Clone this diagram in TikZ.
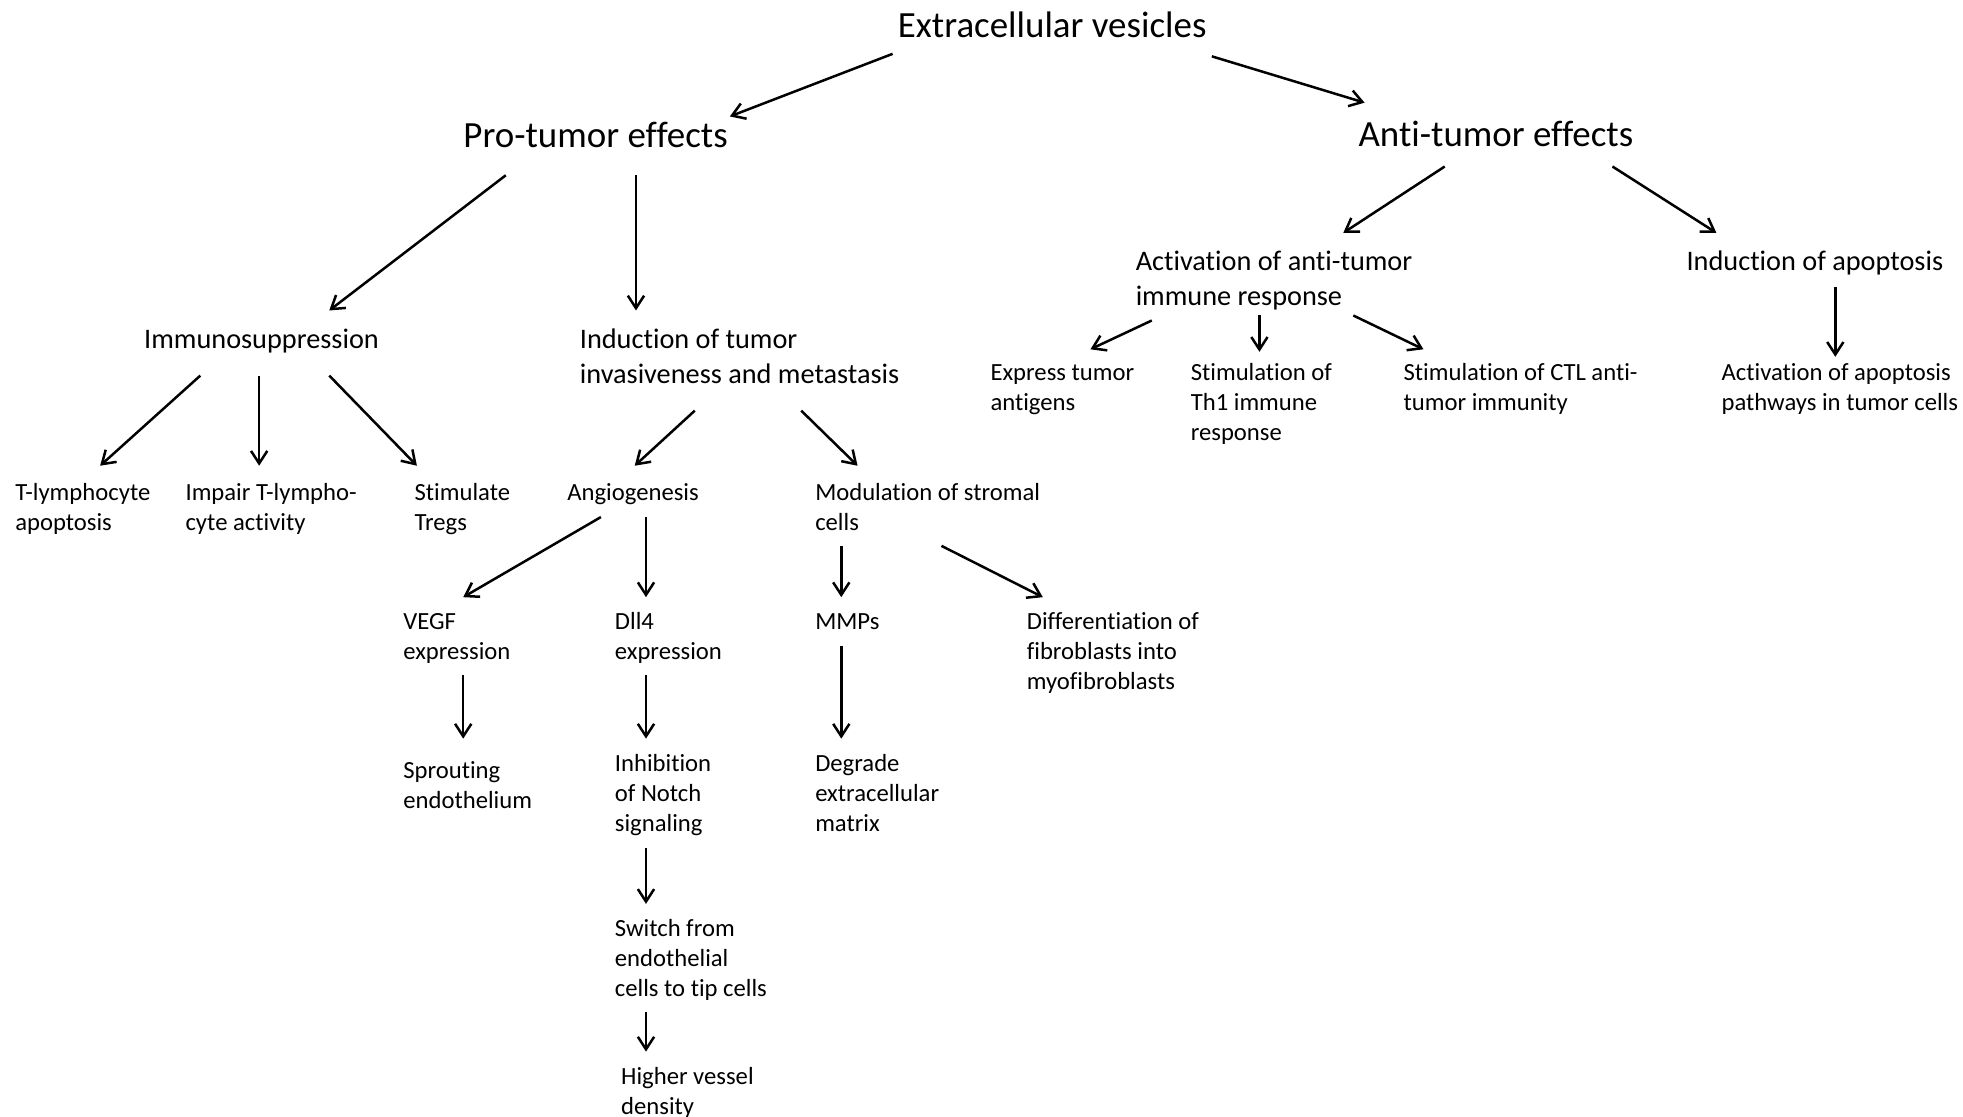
\documentclass[tikz,border=0pt]{standalone}
\usepackage{fontspec}
\setmainfont{Carlito}[Ligatures=NoCommon]
\usetikzlibrary{arrows.meta,calc}
\newcommand\txtlines[1]{\vtop{\let\\\cr\halign{##\hfil\cr#1\crcr}}}
\tikzset{
  lbl/.style={anchor=base west,inner sep=0pt},
  smalltxt/.style={lbl,font=\fontsize{19.7}{24}\selectfont},
  medtxt/.style={lbl,font=\fontsize{22.6}{28}\selectfont},
  bigtxt/.style={lbl,font=\fontsize{29.5}{36}\selectfont},
  arr/.style={line width=2pt,-{Straight Barb[length=10pt,width=13pt]}}
}
\begin{document}
\begin{tikzpicture}[x=1pt,y=-1pt]
\fill[white] (0,0) rectangle (1568,892);
\useasboundingbox (0,0) rectangle (1568,892);
% top levels
\node[bigtxt] (ev) at (717,30) {Extracellular vesicles};
\node[bigtxt] (pro) at (370,118) {Pro-tumor effects};
\node[bigtxt] (anti) at (1085,117) {Anti-tumor effects};
% medium
\node[medtxt] (imm) at (115,278) {Immunosuppression};
\node[medtxt] (ind) at (463,278) {\txtlines{Induction of tumor\\invasiveness and metastasis}};
\node[medtxt] (act) at (907,216) {\txtlines{Activation of anti-tumor\\immune response}};
\node[medtxt] (iap) at (1347,216) {Induction of apoptosis};
% small
\node[smalltxt] (tly) at (12,400) {\txtlines{T-lymphocyte\\apoptosis}};
\node[smalltxt] (imp) at (148,400) {\txtlines{Impair T-lympho-\\cyte activity}};
\node[smalltxt] (stim) at (331,400) {\txtlines{Stimulate\\Tregs}};
\node[smalltxt] (ang) at (453,400) {Angiogenesis};
\node[smalltxt] (mod) at (651,400) {\txtlines{Modulation of stromal\\cells}};
\node[smalltxt] (exp) at (791,304) {\txtlines{Express tumor\\antigens}};
\node[smalltxt] (th1) at (951,304) {\txtlines{Stimulation of\\Th1 immune\\response}};
\node[smalltxt] (ctl) at (1121,304) {\txtlines{Stimulation of CTL anti-\\tumor immunity}};
\node[smalltxt] (aap) at (1375,304) {\txtlines{Activation of apoptosis\\pathways in tumor cells}};
\node[smalltxt] (vegf) at (322,503) {\txtlines{VEGF\\expression}};
\node[smalltxt] (dll) at (491,503) {\txtlines{Dll4\\expression}};
\node[smalltxt] (mmp) at (651,503) {MMPs};
\node[smalltxt] (diff) at (820,503) {\txtlines{Differentiation of\\fibroblasts into\\myofibroblasts}};
\node[smalltxt] (spr) at (322,622) {\txtlines{Sprouting\\endothelium}};
\node[smalltxt] (inh) at (491,616) {\txtlines{Inhibition\\of Notch\\signaling}};
\node[smalltxt] (deg) at (651,616) {\txtlines{Degrade\\extracellular\\matrix}};
\node[smalltxt] (sw) at (491,748) {\txtlines{Switch from\\endothelial\\cells to tip cells}};
\node[smalltxt] (hig) at (496,866) {\txtlines{Higher vessel\\density}};
% arrows
\draw[arr] ($(ev.base west)+(-4,13)$) -- ($(pro.base west)+(213,-25)$);
\draw[arr] ($(ev.base west)+(251,15)$) -- ($(anti.base west)+(5,-35)$);
\draw[arr] ($(pro.base west)+(34,22)$) -- ($(imm.base west)+(148,-30)$);
\draw[arr] ($(pro.base west)+(138,22)$) -- ($(ind.base west)+(45,-30)$);
\draw[arr] ($(anti.base west)+(69,16)$) -- ($(act.base west)+(166,-30)$);
\draw[arr] ($(anti.base west)+(203,16)$) -- ($(iap.base west)+(24,-30)$);
\draw[arr] ($(imm.base west)+(45,22)$) -- ($(tly.base west)+(68,-28)$);
\draw[arr] ($(imm.base west)+(92,22)$) -- ($(imp.base west)+(59,-28)$);
\draw[arr] ($(imm.base west)+(148,22)$) -- ($(stim.base west)+(2,-28)$);
\draw[arr] ($(ind.base west)+(92,50)$) -- ($(ang.base west)+(54,-28)$);
\draw[arr] ($(ind.base west)+(177,50)$) -- ($(mod.base west)+(34,-28)$);
\draw[arr] ($(act.base west)+(13,40)$) -- ($(exp.base west)+(80,-25)$);
\draw[arr] ($(act.base west)+(99,36)$) -- ($(th1.base west)+(55,-23)$);
\draw[arr] ($(act.base west)+(174,36)$) -- ($(ctl.base west)+(16,-25)$);
\draw[arr] ($(iap.base west)+(119,13)$) -- ($(aap.base west)+(91,-19)$);
\draw[arr] ($(ang.base west)+(27,13)$) -- ($(vegf.base west)+(48,-26)$);
\draw[arr] ($(ang.base west)+(63,13)$) -- ($(dll.base west)+(25,-26)$);
\draw[arr] ($(mod.base west)+(21,36)$) -- ($(mmp.base west)+(21,-26)$);
\draw[arr] ($(mod.base west)+(101,36)$) -- ($(diff.base west)+(13,-26)$);
\draw[arr] ($(vegf.base west)+(48,36)$) -- ($(spr.base west)+(48,-32)$);
\draw[arr] ($(dll.base west)+(25,36)$) -- ($(inh.base west)+(25,-26)$);
\draw[arr] ($(mmp.base west)+(21,13)$) -- ($(deg.base west)+(21,-26)$);
\draw[arr] ($(inh.base west)+(25,61)$) -- ($(sw.base west)+(25,-26)$);
\draw[arr] ($(sw.base west)+(25,60)$) -- ($(hig.base west)+(20,-26)$);
\end{tikzpicture}
\end{document}
